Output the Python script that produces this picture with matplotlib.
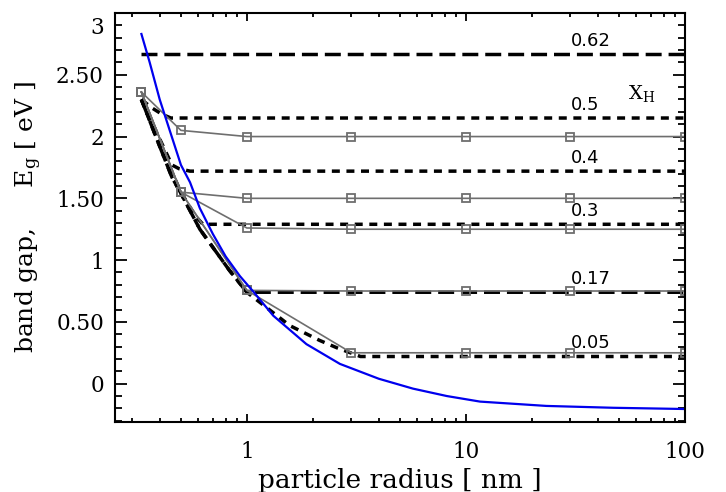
import matplotlib
matplotlib.use("Agg")  # no display
import matplotlib.pyplot as plt
import matplotlib.transforms as mtransforms
from matplotlib.ticker import FixedLocator, FixedFormatter, NullFormatter, MultipleLocator

plt.rcParams['font.family'] = 'DejaVu Serif'
plt.rcParams['mathtext.fontset'] = 'dejavuserif'

# particle radius (nm) where the gray model points sit
radius = [0.33, 0.5, 1, 3, 10, 30, 100]
gray_series = [
    [2.36, 2.05, 2.00, 2.00, 2.00, 2.00, 2.00],
    [2.36, 1.55, 1.50, 1.50, 1.50, 1.50, 1.50],
    [2.36, 1.55, 1.26, 1.25, 1.25, 1.25, 1.25],
    [2.36, 1.55, 0.755, 0.75, 0.75, 0.75, 0.75],
    [2.36, 1.55, 0.755, 0.25, 0.25, 0.25, 0.25],
]

# blue curve
blue_x = [0.33, 0.36, 0.40, 0.45, 0.50, 0.55, 0.61, 0.70, 0.80, 0.93, 1.07, 1.32,
          1.87, 2.66, 4.0, 5.73, 8.18, 11.6, 23.3, 47, 100]
blue_y = [2.83, 2.60, 2.30, 2.02, 1.77, 1.63, 1.42, 1.21, 1.03, 0.87, 0.745, 0.55,
          0.32, 0.16, 0.04, -0.04, -0.10, -0.145, -0.18, -0.195, -0.205]

# black dashed curves, one per hydrogen fraction X_H
xh_labels = ["0.62", "0.5", "0.4", "0.3", "0.17", "0.05"]
xh_levels = [2.67, 2.15, 1.72, 1.29, 0.74, 0.22]
xh_long = [True, False, False, False, True, False]
dash_x = [
    [0.33, 100],
    [0.33, 0.37, 0.41, 0.45, 100],
    [0.33, 0.40, 0.455, 0.49, 0.55, 100],
    [0.33, 0.40, 0.5, 0.58, 0.63, 100],
    [0.33, 0.39, 0.455, 0.5, 0.61, 0.83, 1.0, 100],
    [0.33, 0.39, 0.455, 0.5, 0.61, 0.83, 1.0, 1.57, 2.15, 2.58, 3.3, 100],
]
dash_y = [
    [2.67, 2.67],
    [2.30, 2.23, 2.18, 2.15, 2.15],
    [2.30, 1.98, 1.77, 1.74, 1.72, 1.72],
    [2.30, 1.93, 1.55, 1.36, 1.29, 1.29],
    [2.30, 1.97, 1.67, 1.54, 1.25, 0.92, 0.74, 0.74],
    [2.30, 1.97, 1.67, 1.54, 1.25, 0.92, 0.74, 0.47, 0.35, 0.29, 0.22, 0.22],
]

y_ticks = [0, 0.5, 1, 1.5, 2, 2.5, 3]
y_ticklabels = ["0", "0.50", "1", "1.50", "2", "2.50", "3"]
x_ticks = [1, 10, 100]
x_ticklabels = ["1", "10", "100"]

fig = plt.figure(figsize=(7.26, 4.92), dpi=100)
ax = fig.add_axes([0.1584, 0.1423, 0.7851, 0.8313])

for xs, ys, long_dash in zip(dash_x, dash_y, xh_long):
    style = (0, (4.6, 2.0)) if long_dash else (0, (2.3, 1.9))
    ax.plot(xs, ys, color="black", lw=2.5, linestyle=style)

for ys in gray_series:
    ax.plot(radius, ys, color="#6e6e6e", lw=1.2, marker="s", ms=5.5,
            mfc="none", mec="#6e6e6e", mew=1.3)

ax.plot(blue_x, blue_y, color="#0000ee", lw=1.6)

for lab, lev in zip(xh_labels, xh_levels):
    ax.text(30, lev + 0.065, lab, family="DejaVu Sans", fontsize=13, va="baseline", ha="left")
ax.text(55, 2.30, r"X$_{\rm H}$", fontsize=14, va="baseline", ha="left")

ax.set_xscale("log")
ax.set_xlim(0.25, 100)
ax.set_ylim(-0.31, 3.0)

ax.xaxis.set_major_locator(FixedLocator(x_ticks))
ax.xaxis.set_major_formatter(FixedFormatter(x_ticklabels))
ax.xaxis.set_minor_formatter(NullFormatter())
ax.yaxis.set_major_locator(FixedLocator(y_ticks))
ax.yaxis.set_major_formatter(FixedFormatter(y_ticklabels))
ax.yaxis.set_minor_locator(MultipleLocator(0.1))

ax.tick_params(which="both", direction="in", top=True, right=True, width=1.3, labelsize=15.5)
ax.tick_params(axis="x", which="major", length=5.5, pad=14)
ax.tick_params(axis="x", which="minor", length=3.2)
ax.tick_params(axis="y", which="major", length=8.4, pad=8)
ax.tick_params(axis="y", which="minor", length=4.8)
for sp in ax.spines.values():
    sp.set_linewidth(1.5)

# the top "3" label sits a bit lower, as in the original
top_tick = ax.yaxis.get_major_ticks()[-1]
top_tick.label1.set_transform(top_tick.label1.get_transform()
                              + mtransforms.ScaledTranslation(0, -9 / 72, fig.dpi_scale_trans))

ax.set_xlabel("particle radius [ nm ]", fontsize=19, labelpad=3)
ax.set_ylabel(r"band gap,     E$_{\rm g}$ [ eV ]", fontsize=18, labelpad=9)

fig.savefig("out.png", dpi=100)
